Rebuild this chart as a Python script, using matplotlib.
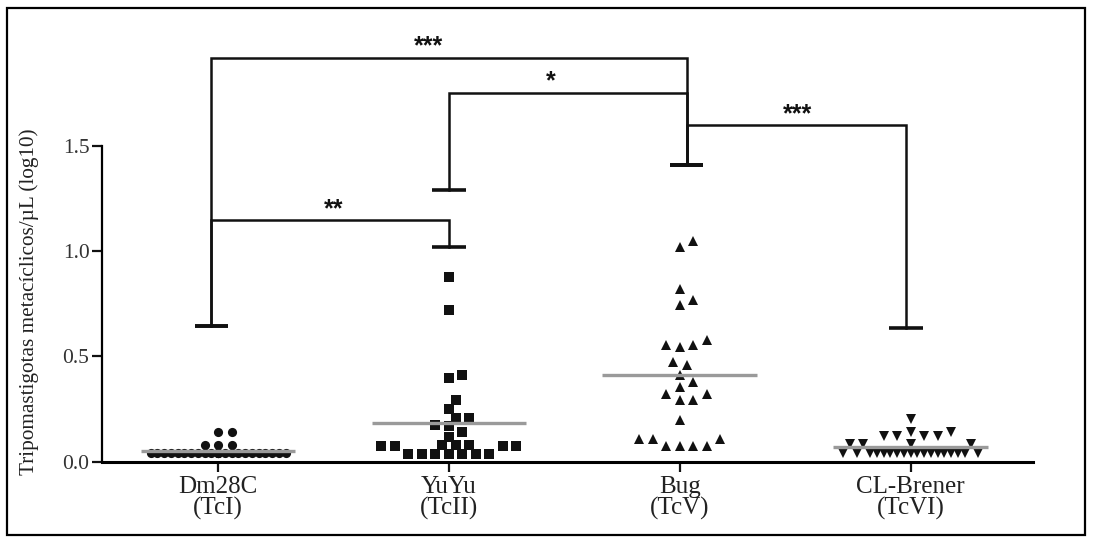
import numpy as np
import matplotlib
matplotlib.use("Agg")
import matplotlib.pyplot as plt
from matplotlib.patches import Rectangle

plt.rcParams['font.family'] = 'serif'
plt.rcParams['font.serif'] = ['Liberation Serif', 'DejaVu Serif']

# groups and their tick labels
groups = ["Dm28C", "YuYu", "Bug", "CL-Brener"]
dtu = ["(TcI)", "(TcII)", "(TcV)", "(TcVI)"]

# log10 trypomastigotes / uL
dm28c = [0.141, 0.141, 0.078, 0.078, 0.078] + [0.040] * 24
yuyu = [0.877, 0.719, 0.411, 0.395, 0.295, 0.249, 0.205, 0.205, 0.173, 0.168,
        0.141, 0.118, 0.080, 0.080, 0.080, 0.074, 0.074, 0.074, 0.074] + [0.038] * 7
bug = [1.048, 1.017, 0.819, 0.766, 0.743, 0.577, 0.553, 0.553, 0.542, 0.474,
       0.458, 0.411, 0.376, 0.355, 0.320, 0.320, 0.295, 0.295, 0.200,
       0.110, 0.110, 0.110, 0.074, 0.074, 0.074, 0.074]
clbrener = [0.202, 0.141, 0.141, 0.121, 0.121, 0.121, 0.121,
            0.086, 0.086, 0.086, 0.086] + [0.042] * 18
data = [dm28c, yuyu, bug, clbrener]

# significance brackets: (group a, group b, height, cap a, cap b, label)
brackets = [
    (0, 2, 1.918, 0.644, 1.408, "***"),
    (1, 2, 1.752, 1.289, 1.408, "*"),
    (2, 3, 1.598, 1.408, 0.635, "***"),
    (0, 1, 1.147, 0.644, 1.017, "**"),
]
star_x = [0.91, 1.44, 2.51, 0.50]

markers = ['o', 's', '^', 'v']
bracket_dx = [-0.03, 0.0, 0.03, -0.02]   # prism draws the brackets a bit off centre

fig = plt.figure(figsize=(10.94, 5.41), dpi=100)
ax = fig.add_axes([0.0932, 0.1466, 0.851, 0.8179])
ax.set_xlim(-0.503, 3.53)
ax.set_ylim(0, 2.1)

# pixel scale of the axes, used to lay the dots out like a column scatter
px_x = fig.get_figwidth() * fig.dpi * 0.851 / (3.53 + 0.503)
px_y = fig.get_figheight() * fig.dpi * 0.8179 / 2.1


def swarm(values, half_width, r=10.3, step=6.75):
    # greedy column scatter: closest free slot to the centre, else least overlap
    vals = np.asarray(values)
    kmax = int(half_width // step)
    cands = [0.0]
    for k in range(1, kmax + 1):
        cands += [k * step, -k * step]
    placed = []
    offs = np.zeros(len(vals))
    for idx in np.argsort(vals, kind='stable'):
        y = vals[idx] * px_y
        best, best_d = 0.0, -1.0
        for c in cands:
            d = min([np.hypot(c - p, y - q) for p, q in placed], default=np.inf)
            if d >= r:
                best = c
                break
            if d > best_d:
                best, best_d = c, d
        placed.append((best, y))
        offs[idx] = best / px_x
    return offs


half_widths = [74, 70, 100, 68]
for i, vals in enumerate(data):
    offs = swarm(vals, half_widths[i])
    ax.plot(i + offs, vals, linestyle='none', marker=markers[i], ms=6.6,
            color='#111111', mew=0, zorder=3, clip_on=False)
    m = np.mean(vals)
    ax.plot([i - 0.335, i + 0.335], [m, m], color='#9a9a9a', lw=2.4,
            solid_capstyle='butt', zorder=4)

# brackets
for (a, b, h, ca, cb, lab), sx in zip(brackets, star_x):
    xa = a + bracket_dx[a]
    xb = b + bracket_dx[b]
    ax.plot([xa, xa, xb, xb], [ca, h, h, cb], color='#111111', lw=1.8,
            solid_joinstyle='miter', zorder=2, clip_on=False)
    for x, c in [(xa, ca), (xb, cb)]:
        ax.plot([x - 0.072, x + 0.072], [c, c], color='#111111', lw=2.6,
                solid_capstyle='butt', zorder=2)
    ax.text(sx, h + 0.018, lab, ha='center', va='baseline', fontsize=18,
            fontweight='bold', family='Liberation Sans', color='#111111')

# axes styling, prism style
for s in ['top', 'right']:
    ax.spines[s].set_visible(False)
ax.spines['left'].set_bounds(0, 1.5)
ax.spines['left'].set_linewidth(1.6)
ax.spines['bottom'].set_linewidth(2.2)
ax.set_yticks([0, 0.5, 1.0, 1.5])
ax.set_yticklabels(["0.0", "0.5", "1.0", "1.5"])
ax.set_xticks(range(len(groups)))
ax.set_xticklabels([g + "\n" + t for g, t in zip(groups, dtu)], linespacing=0.95)
ax.tick_params(axis='y', direction='out', length=7, width=1.6, labelsize=15.5,
               pad=2, colors='#111111', labelcolor='#333333')
ax.tick_params(axis='x', direction='out', length=7.5, width=1.6, labelsize=18,
               pad=3, colors='#111111', labelcolor='#222222')
ax.set_ylabel("Tripomastigotas metacíclicos/µL (log10)", fontsize=15.3, color='#222222')
ax.yaxis.set_label_coords(-0.068, 0.361)

# frame round the whole picture
fig.patches.append(Rectangle((7 / 1094, 1 - 535 / 541), 1078 / 1094, 527 / 541,
                             transform=fig.transFigure, fill=False,
                             edgecolor='black', lw=1.6))

plt.savefig("out.png", dpi=100)
